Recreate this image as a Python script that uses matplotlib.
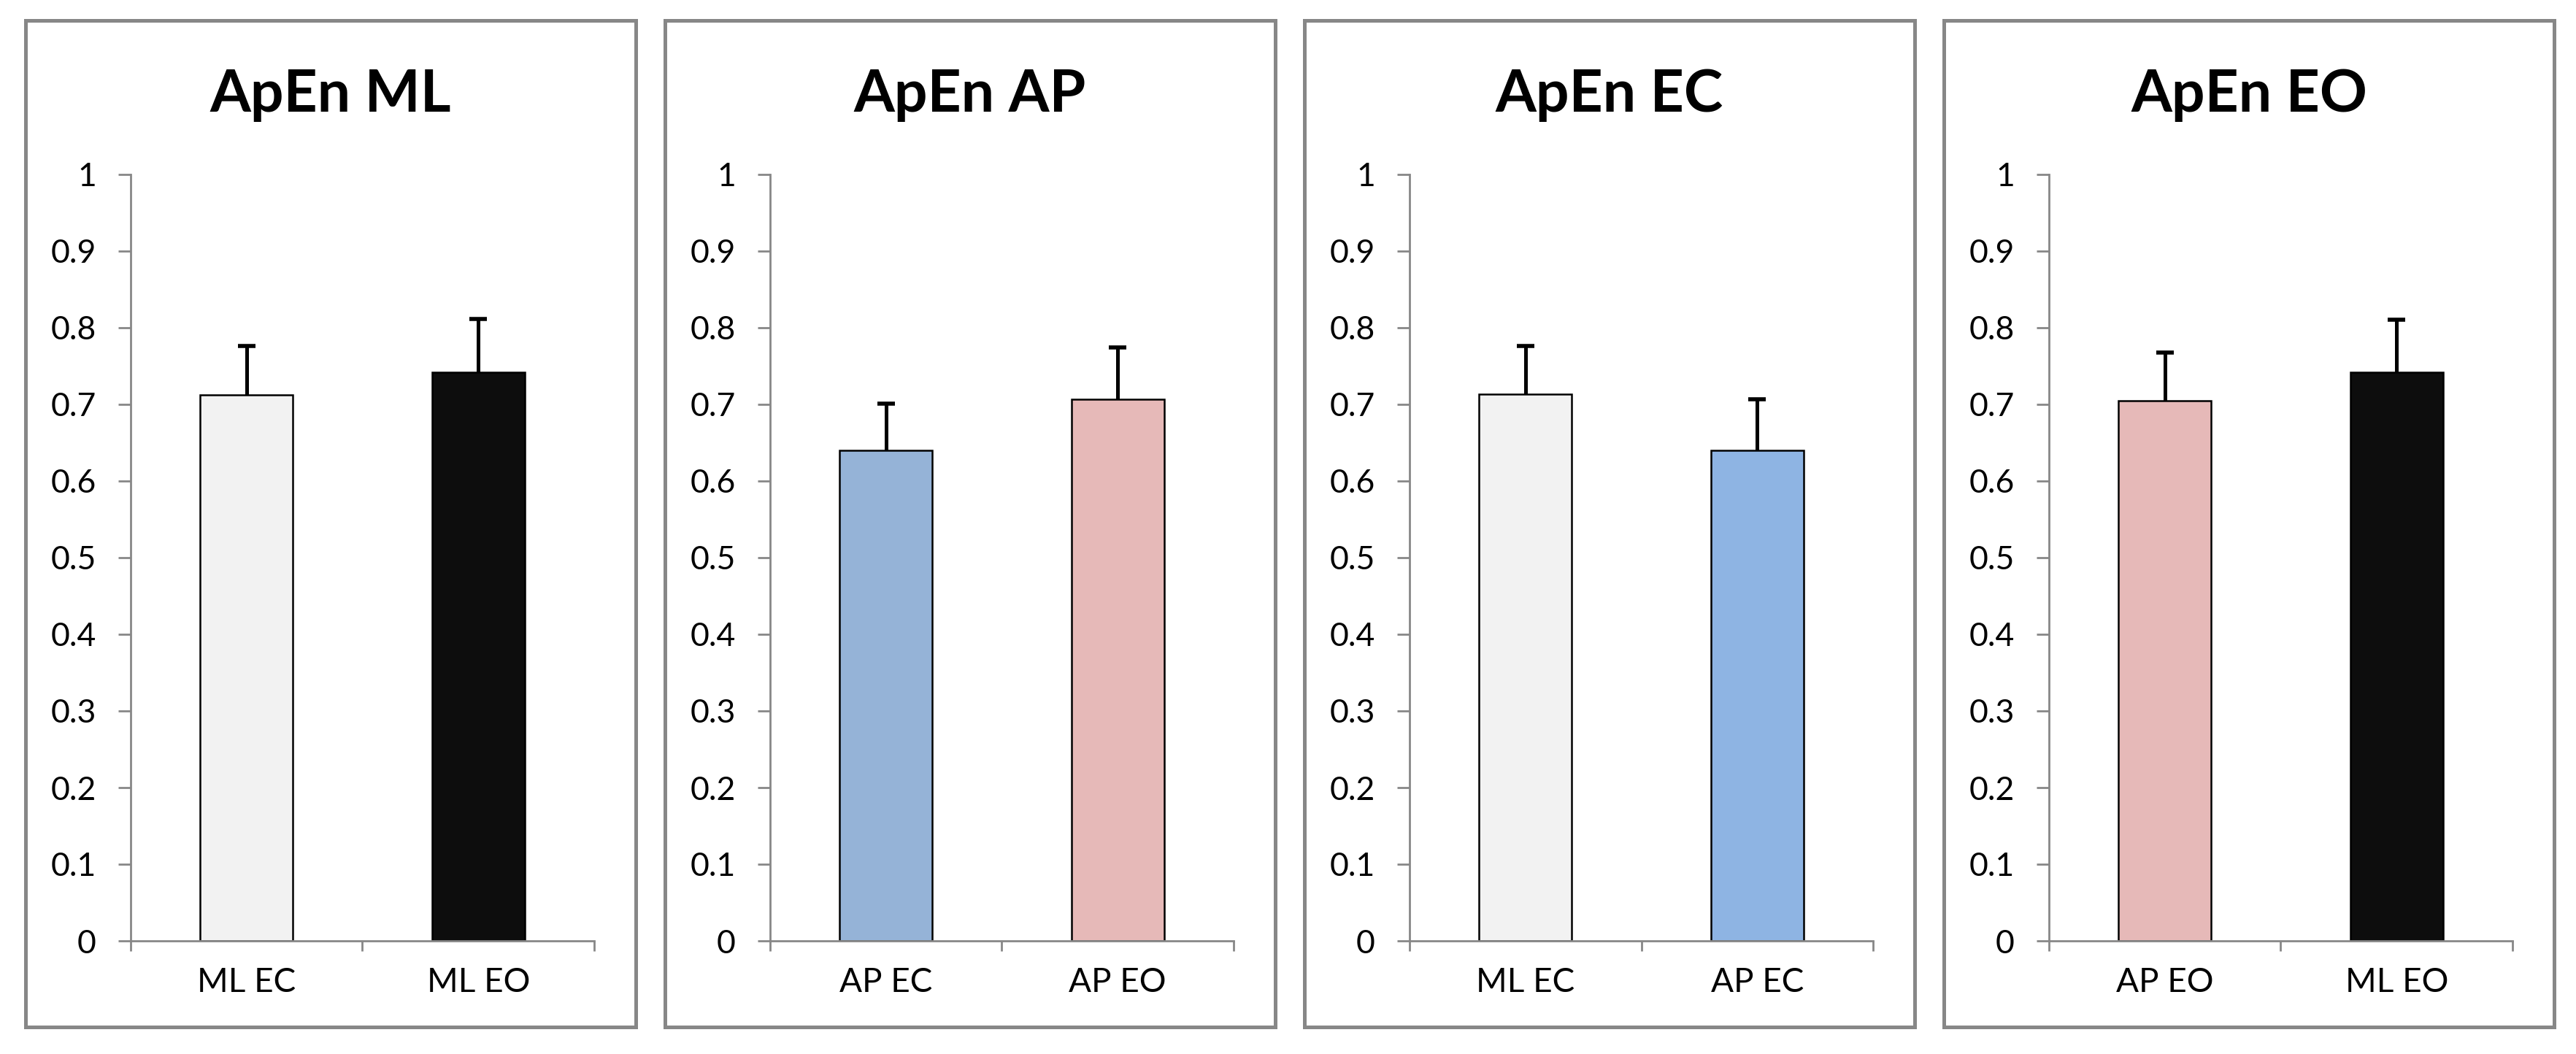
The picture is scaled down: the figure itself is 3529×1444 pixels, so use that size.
import matplotlib
matplotlib.use('Agg')
import matplotlib.pyplot as plt
from matplotlib.patches import Rectangle

plt.rcParams['font.family'] = ['Lato', 'DejaVu Sans']

# data
titles = ['ApEn ML', 'ApEn AP', 'ApEn EC', 'ApEn EO']
labels = [['ML EC', 'ML EO'], ['AP EC', 'AP EO'], ['ML EC', 'AP EC'], ['AP EO', 'ML EO']]
means = [[0.712, 0.742], [0.640, 0.707], [0.713, 0.640], [0.705, 0.742]]
errs = [[0.064, 0.069], [0.061, 0.067], [0.063, 0.067], [0.063, 0.068]]
colors = [['#F2F2F2', '#0D0D0D'], ['#95B3D7', '#E6B9B8'],
          ['#F2F2F2', '#8EB4E3'], ['#E6B9B8', '#0D0D0D']]
yticks = [0, 0.1, 0.2, 0.3, 0.4, 0.5, 0.6, 0.7, 0.8, 0.9, 1]
ytick_labels = ['0', '0.1', '0.2', '0.3', '0.4', '0.5', '0.6', '0.7', '0.8', '0.9', '1']

W, H = 3530, 1444
fig = plt.figure(figsize=(W / 100, H / 100), dpi=100)
grey = '#878787'

for k in range(4):
    dx = 876 * k
    # panel frame
    fig.patches.append(Rectangle(((35.5 + dx) / W, 1 - 1406.5 / H), 836 / W, 1379 / H,
                                 transform=fig.transFigure, fill=False,
                                 edgecolor=grey, linewidth=3.6))
    fig.text((453 + dx) / W, 1 - 153 / H, titles[k], ha='center', va='baseline',
             fontsize=58, fontweight='bold')

    ax = fig.add_axes([(179 + dx) / W, 155 / H, 635 / W, 1050 / H])
    x = [0, 1]
    ax.bar(x, means[k], width=0.40, color=colors[k], edgecolor='black',
           linewidth=1.8, zorder=2)
    eb = ax.errorbar(x, means[k], yerr=[[0, 0], errs[k]], fmt='none', ecolor='black',
                     elinewidth=3.6, capsize=8.6, capthick=4, zorder=3)
    # only the upper cap is drawn in the original
    eb[1][0].set_visible(False)
    ax.set_xlim(-0.5, 1.5)
    ax.set_ylim(0, 1)
    ax.set_yticks(yticks)
    ax.set_yticklabels(ytick_labels)
    ax.set_xticks(x)
    ax.set_xticklabels(labels[k])
    ax.set_xticks([-0.5, 0.5, 1.5], minor=True)
    ax.tick_params(axis='x', which='major', length=0, pad=26, labelsize=33)
    ax.tick_params(axis='x', which='minor', length=10, width=2, color=grey, direction='out')
    ax.tick_params(axis='y', length=12, width=2, color=grey, direction='out',
                   pad=22, labelsize=32)
    for s in ['top', 'right']:
        ax.spines[s].set_visible(False)
    for s in ['left', 'bottom']:
        ax.spines[s].set_color(grey)
        ax.spines[s].set_linewidth(2)
    ax.set_facecolor('none')

fig.savefig('out.png', dpi=100)
